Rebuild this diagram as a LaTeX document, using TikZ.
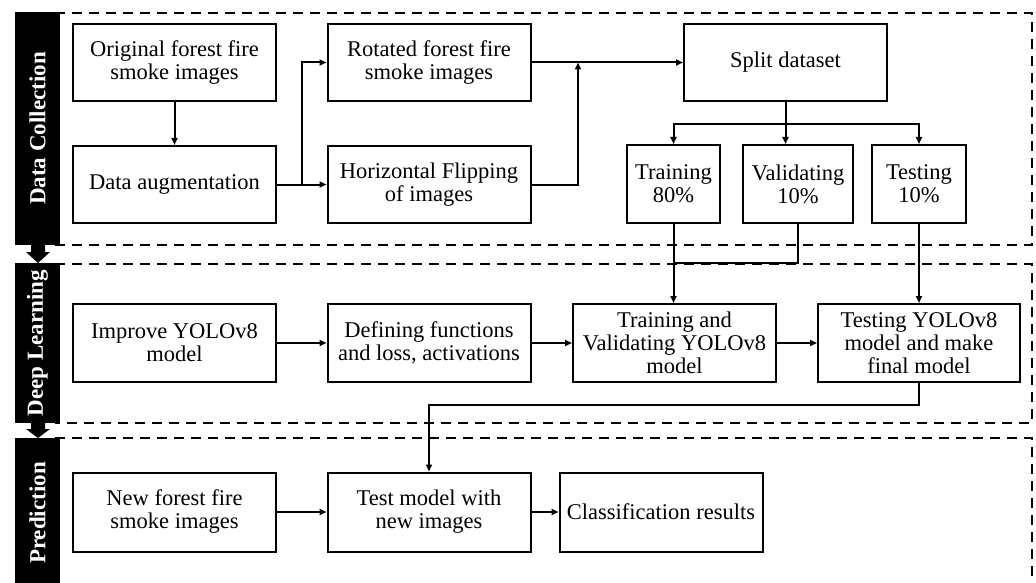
\documentclass[tikz,border=0pt]{standalone}
\usepackage{fontspec}
\setmainfont{Liberation Serif}
\usetikzlibrary{arrows.meta,calc}
\begin{document}
\begin{tikzpicture}[x=1pt,y=-1pt,
  box/.style={draw,line width=2pt,minimum width=203pt,minimum height=77pt,align=center,
    inner sep=1pt,font=\fontsize{22.5}{23}\selectfont},
  arr/.style={line width=2pt,-{Triangle[length=7pt,width=6pt]}},
  conn/.style={line width=2pt},
  zone/.style={line width=2.2pt,dash pattern=on 10pt off 7pt},
  sidebar/.style={fill=black,text=white,rotate=90,inner sep=0pt,
    font=\fontsize{23}{24}\selectfont\bfseries}]
\useasboundingbox (0,0) rectangle (1036,583);
\fill[white] (0,0) rectangle (1036,583);
% dashed zones
\draw[zone] (55,13) -- (1032,13) -- (1032,245) -- (55,245);
\draw[zone] (55,264) -- (1032,264) -- (1032,423) -- (55,423);
\draw[zone] (55,438) -- (1032,438) -- (1032,590);
% side bars
\node[sidebar,minimum width=233pt,minimum height=45pt] (dcbar) at (37.5,128.5) {Data Collection};
\node[sidebar,minimum width=160pt,minimum height=45pt] (dlbar) at (37.5,343) {Deep Learning};
\node[sidebar,minimum width=150pt,minimum height=45pt] (prbar) at (37.5,513) {Prediction};
\fill (31,245) -- (45,245) -- (45,252) -- (50,252) -- (38,263) -- (26,252) -- (31,252) -- cycle;
\fill (31,423) -- (45,423) -- (45,429) -- (50,429) -- (38,438) -- (26,429) -- (31,429) -- cycle;
% row 1
\node[box] (orig) at (174.5,62.5) {Original forest fire\\smoke images};
\node[box] (aug) at (174.5,184.5) {Data augmentation};
\node[box] (rot) at (429,62.5) {Rotated forest fire\\smoke images};
\node[box] (hflip) at (429,184.5) {Horizontal Flipping\\of images};
\node[box] (split) at (785.5,62.5) {Split dataset};
\node[box,minimum width=93pt,minimum height=78pt] (train) at (673.5,184) {Training\\80\%};
\node[box,minimum width=110pt,minimum height=78pt] (valid) at (798,184) {Validating\\10\%};
\node[box,minimum width=94pt,minimum height=78pt] (test) at (919,184) {Testing\\10\%};
% row 2
\node[box,minimum height=78pt] (improve) at (174.5,343) {Improve YOLOv8\\model};
\node[box,minimum height=78pt] (define) at (429,343) {Defining functions\\and loss, activations};
\node[box,minimum height=78pt] (tv) at (674.5,343) {Training and\\Validating YOLOv8\\model};
\node[box,minimum width=202pt,minimum height=78pt] (tym) at (919,343) {Testing YOLOv8\\model and make\\final model};
% row 3
\node[box,minimum height=79pt] (newimg) at (174.5,512) {New forest fire\\smoke images};
\node[box,minimum height=79pt] (testmodel) at (429,512) {Test model with\\new images};
\node[box,minimum height=79pt] (classif) at (661,512) {Classification results};
% coordinates
\coordinate (j1) at (302,184.5);
\coordinate (j2) at (578,62.5);
\coordinate (vb) at (798,263);
% connectors
\draw[arr] (orig) -- (aug);
\draw[arr] (aug) -- (hflip);
\draw[arr] (j1) |- (rot.west);
\draw[arr] (rot) -- (split);
\draw[arr] (hflip.east) -| (j2);
\draw[arr] (split.south) -- (split.south |- valid.north);
\draw[arr] (split.south) -- ++(0,22) -| (train.north);
\draw[arr] (split.south) -- ++(0,22) -| (test.north);
\draw[arr] (train.south) -- (train.south |- tv.north);
\draw[conn] (valid.south) -- (vb) -- (train.south |- vb);
\draw[arr] (test.south) -- (tym.north);
\draw[arr] (improve) -- (define);
\draw[arr] (define) -- (tv);
\draw[arr] (tv) -- (tym);
\draw[arr] (tym.south) -- ++(0,22) -| (testmodel.north);
\draw[arr] (newimg) -- (testmodel);
\draw[arr] (testmodel) -- (classif);
\end{tikzpicture}
\end{document}
